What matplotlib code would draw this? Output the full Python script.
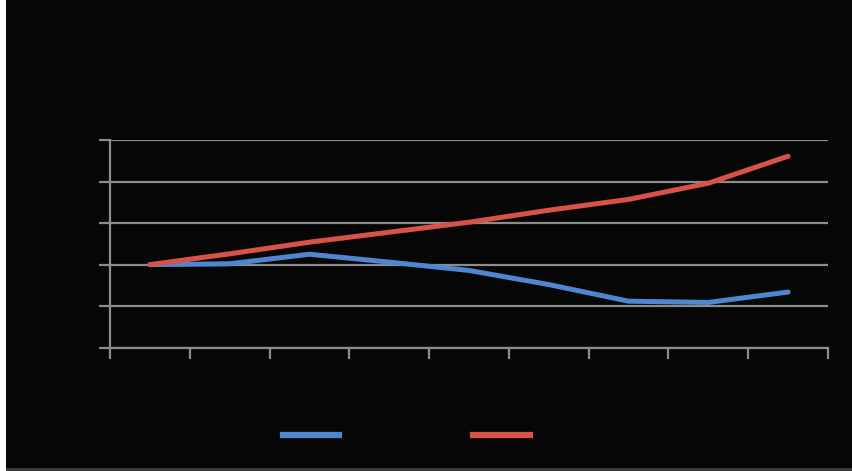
import matplotlib
matplotlib.use("Agg")
from matplotlib import pyplot as plt
from matplotlib.lines import Line2D

# valores de cada serie por periodo
periodos = list(range(9))
serie_azul = [2.0, 2.02, 2.25, 2.06, 1.86, 1.52, 1.12, 1.09, 1.34]
serie_roja = [2.0, 2.26, 2.54, 2.78, 3.02, 3.31, 3.57, 3.96, 4.61]
etiquetas_leyenda = ["Serie 1", "Serie 2"]

fondo = "#060606"
gris = "#8c8c8c"
azul = "#4f86d0"
rojo = "#d8524a"

fig = plt.figure(figsize=(8.52, 4.71), dpi=100, facecolor="white")
# recuadro negro de la figura, por debajo de los ejes
fig.patches.append(plt.Rectangle((6 / 852, 3 / 471), 846 / 852, 468 / 471,
                                 transform=fig.transFigure, facecolor=fondo,
                                 edgecolor="none", zorder=-10))
fig.patches.append(plt.Rectangle((6 / 852, 0), 846 / 852, 3 / 471,
                                 transform=fig.transFigure, facecolor="#3a3a3a",
                                 edgecolor="none", zorder=-10))

ax = fig.add_axes([110 / 852, 123.3 / 471, 718 / 852, 207.7 / 471])
ax.set_facecolor(fondo)

ax.plot(periodos, serie_azul, color=azul, linewidth=3.6, solid_capstyle="round",
        solid_joinstyle="round")
ax.plot(periodos, serie_roja, color=rojo, linewidth=3.6, solid_capstyle="round",
        solid_joinstyle="round")

ax.set_xlim(-0.5, 8.5)
ax.set_ylim(0, 5)
ax.set_yticks(range(6))
ax.set_xticks([p - 0.5 for p in periodos] + [8.5])
ax.set_xticklabels([])
ax.set_yticklabels([])
ax.yaxis.grid(True, color=gris, linewidth=1.6)
ax.set_axisbelow(True)

for lado in ["top", "right"]:
    ax.spines[lado].set_visible(False)
for lado in ["left", "bottom"]:
    ax.spines[lado].set_color(gris)
    ax.spines[lado].set_linewidth(1.6)
ax.tick_params(colors=gris, width=1.6, length=8)

manejadores = [Line2D([], [], color=azul, linewidth=4.5),
               Line2D([], [], color=rojo, linewidth=4.5)]
fig.legend(manejadores, etiquetas_leyenda, loc="center left",
           bbox_to_anchor=(270 / 852, 1 - 436 / 471), ncol=2, frameon=False,
           handlelength=4.1, fontsize=10, labelcolor=fondo, columnspacing=5.3)

fig.savefig("out.png", dpi=100, facecolor="white")
